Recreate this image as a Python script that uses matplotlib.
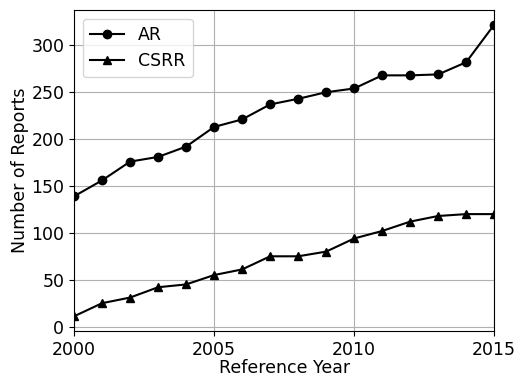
import matplotlib
matplotlib.use("Agg")
import matplotlib.pyplot as plt

# data
years = list(range(2000, 2016))
ar = [139, 156, 176, 181, 192, 213, 221, 237, 243, 250, 254, 268, 268, 269, 282, 322]
csrr = [11, 25, 31, 42, 45, 55, 61, 75, 75, 80, 94, 102, 112, 118, 120, 120]

fig = plt.figure(figsize=(5.18, 3.76), dpi=100)
ax = fig.add_axes([0.143, 0.12, 0.811, 0.853])

ax.plot(years, ar, marker="o", color="black", linewidth=1.5, markersize=6, label="AR")
ax.plot(years, csrr, marker="^", color="black", linewidth=1.5, markersize=6, label="CSRR")

ax.set_xlim(2000, 2015)
ax.set_xticks([2000, 2005, 2010, 2015])
ax.set_yticks([0, 50, 100, 150, 200, 250, 300])
ax.tick_params(labelsize=12.5)
ax.set_xlabel("Reference Year", fontsize=12.5, labelpad=0)
ax.set_ylabel("Number of Reports", fontsize=12.5, labelpad=2)
ax.grid(True, color="#b0b0b0", linewidth=0.8)
ax.legend(loc="upper left", fontsize=12.5)

fig.savefig("out.png", dpi=100)
